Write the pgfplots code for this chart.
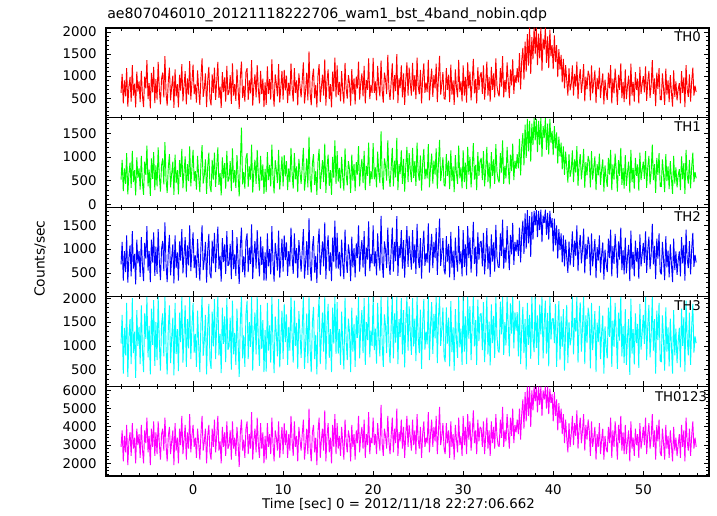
\documentclass[border=0pt]{standalone}
\usepackage{fontspec}
\setmainfont{DejaVu Sans}
\usepackage{pgfplots}
\usepackage{pgfplotstable}
\pgfplotsset{compat=1.18}
\definecolor{cRed}{rgb}{1,0,0}
\definecolor{cGreen}{rgb}{0,1,0}
\definecolor{cBlue}{rgb}{0,0,1}
\definecolor{cCyan}{rgb}{0,1,1}
\definecolor{cMag}{rgb}{1,0,1}

\pgfplotstableread[row sep=\\]{y\\
620\\1050\\380\\900\\540\\1180\\310\\760\\980\\420\\1250\\560\\830\\290\\1100\\650\\
880\\410\\1120\\560\\300\\990\\720\\1360\\480\\840\\270\\1070\\630\\1210\\390\\930\\
470\\1320\\700\\360\\940\\1080\\520\\1450\\610\\330\\880\\1190\\450\\760\\1010\\280\\
1150\\540\\820\\290\\1030\\670\\1270\\430\\790\\1110\\360\\950\\580\\1340\\470\\860\\
1260\\590\\810\\400\\1130\\680\\350\\970\\1400\\530\\720\\1060\\300\\890\\1210\\480\\
340\\1040\\620\\1190\\460\\880\\1320\\510\\760\\280\\1090\\640\\970\\420\\1230\\570\\
640\\1020\\370\\1290\\560\\820\\440\\1150\\700\\260\\990\\1330\\510\\780\\420\\1090\\
1180\\460\\900\\610\\1360\\330\\780\\1040\\520\\1250\\690\\380\\1120\\590\\940\\300\\
860\\350\\1220\\600\\930\\470\\1380\\690\\310\\1040\\820\\540\\1270\\400\\750\\1120\\
470\\1140\\680\\1010\\390\\850\\560\\1290\\730\\420\\1180\\620\\900\\340\\1060\\770\\
520\\900\\1310\\380\\670\\1080\\450\\1560\\610\\340\\960\\1170\\500\\800\\290\\1030\\
1270\\410\\740\\1030\\560\\1380\\330\\890\\1150\\480\\820\\290\\1100\\650\\1420\\520\\
1240\\570\\870\\430\\1110\\650\\380\\1300\\720\\490\\1020\\840\\330\\1160\\590\\950\\
360\\990\\720\\1330\\470\\850\\1060\\540\\1230\\380\\910\\690\\1400\\480\\800\\620\\
1410\\620\\880\\450\\1230\\760\\540\\1350\\680\\400\\1080\\920\\590\\1480\\710\\460\\
860\\1290\\470\\1020\\660\\1500\\390\\950\\730\\1240\\520\\1060\\350\\910\\1310\\560\\
1190\\830\\560\\1300\\650\\1020\\480\\1420\\770\\590\\1140\\380\\960\\1290\\620\\850\\
640\\1370\\450\\880\\1170\\530\\1020\\720\\1280\\410\\960\\1460\\580\\820\\1090\\500\\
470\\1180\\690\\1030\\410\\1260\\580\\900\\350\\1150\\740\\520\\1370\\640\\880\\430\\
1240\\560\\980\\400\\1310\\720\\1100\\450\\860\\1390\\610\\930\\380\\1200\\690\\1010\\
1090\\600\\1240\\470\\820\\1330\\560\\980\\420\\1210\\690\\1060\\520\\1400\\780\\610\\
540\\1180\\760\\1450\\520\\910\\640\\1310\\880\\500\\1150\\790\\1380\\600\\1020\\840\\
1180\\860\\1520\\700\\1350\\1640\\920\\1780\\1100\\1950\\1240\\2100\\1050\\1880\\1380\\2100\\
1500\\2100\\1250\\1960\\1400\\2100\\1120\\1850\\1600\\2100\\1300\\1900\\1180\\2050\\1450\\1700\\
1160\\1920\\1320\\1700\\980\\1610\\1150\\1480\\860\\1390\\720\\1250\\900\\560\\1180\\680\\
820\\1240\\560\\1050\\760\\1330\\480\\930\\1160\\620\\880\\1270\\430\\990\\700\\1120\\
1020\\450\\1240\\610\\870\\1130\\390\\960\\700\\1190\\500\\830\\1060\\360\\920\\640\\
460\\1080\\720\\1250\\380\\940\\610\\1170\\820\\350\\1030\\690\\1290\\500\\870\\410\\
1150\\480\\780\\1010\\330\\1280\\560\\870\\420\\1090\\690\\940\\380\\1210\\600\\820\\
1000\\630\\1220\\440\\890\\1120\\510\\780\\1360\\600\\950\\320\\1080\\710\\1180\\470\\
460\\1060\\720\\350\\1170\\580\\900\\410\\1020\\640\\310\\1130\\530\\880\\450\\700\\
840\\380\\1110\\620\\970\\300\\1250\\700\\530\\1040\\420\\880\\1190\\560\\780\\640\\
}\thzero

\pgfplotstableread[row sep=\\]{y\\
520\\940\\280\\760\\430\\1080\\210\\640\\880\\350\\1130\\470\\720\\190\\990\\560\\
760\\310\\1020\\460\\200\\900\\620\\1240\\380\\730\\180\\970\\540\\1100\\300\\820\\
380\\1200\\610\\270\\830\\970\\420\\1310\\520\\240\\780\\1060\\360\\650\\900\\200\\
1050\\450\\720\\210\\930\\580\\1170\\340\\690\\1010\\270\\850\\490\\1220\\380\\760\\
1150\\490\\700\\310\\1020\\580\\260\\860\\1250\\440\\620\\950\\220\\790\\1090\\390\\
260\\940\\520\\1090\\370\\780\\1200\\410\\660\\190\\990\\550\\870\\330\\1130\\480\\
540\\910\\280\\1180\\460\\720\\350\\1040\\600\\170\\880\\1620\\420\\680\\330\\980\\
1080\\370\\800\\520\\1260\\250\\690\\940\\430\\1150\\600\\290\\1020\\500\\840\\220\\
750\\260\\1100\\510\\830\\380\\1260\\590\\230\\930\\720\\450\\1150\\310\\650\\1010\\
380\\1040\\590\\910\\300\\760\\470\\1190\\640\\330\\1080\\530\\800\\260\\960\\680\\
430\\800\\1190\\290\\570\\970\\360\\1430\\520\\250\\860\\1060\\410\\700\\200\\920\\
1170\\320\\650\\930\\470\\1280\\240\\790\\1050\\390\\720\\200\\1000\\560\\1350\\430\\
1120\\480\\770\\340\\1000\\560\\290\\1180\\630\\400\\910\\740\\240\\1050\\500\\850\\
280\\890\\630\\1230\\380\\750\\960\\450\\1130\\300\\810\\600\\1300\\390\\700\\530\\
1290\\530\\780\\360\\1110\\660\\450\\1540\\590\\310\\970\\820\\500\\1350\\620\\370\\
770\\1190\\380\\920\\570\\1400\\300\\850\\640\\1140\\430\\960\\270\\810\\1210\\470\\
1080\\730\\470\\1190\\560\\910\\390\\1300\\670\\500\\1030\\290\\860\\1170\\530\\750\\
550\\1270\\360\\780\\1070\\440\\920\\630\\1180\\330\\860\\1360\\490\\720\\990\\410\\
380\\1060\\600\\920\\320\\1140\\490\\800\\260\\1040\\650\\430\\1240\\550\\780\\340\\
1140\\470\\880\\320\\1210\\630\\1000\\360\\760\\1290\\520\\830\\300\\1100\\600\\910\\
980\\510\\1120\\380\\720\\1210\\470\\880\\330\\1100\\600\\950\\430\\1270\\690\\520\\
460\\1080\\670\\1350\\430\\810\\550\\1210\\780\\420\\1050\\700\\1280\\510\\920\\750\\
1060\\760\\1380\\610\\1210\\1500\\820\\1680\\980\\1800\\1120\\1760\\900\\1700\\1250\\1820\\
1350\\1800\\1100\\1760\\1250\\1820\\1000\\1650\\1400\\1820\\1150\\1700\\1050\\1800\\1300\\1550\\
1040\\1650\\1180\\1520\\860\\1430\\1010\\1300\\740\\1220\\620\\1110\\790\\460\\1060\\580\\
720\\1140\\470\\950\\670\\1230\\390\\830\\1060\\530\\780\\1170\\350\\890\\610\\1020\\
910\\360\\1120\\520\\770\\1010\\300\\850\\610\\1070\\410\\730\\950\\270\\820\\550\\
370\\980\\630\\1150\\300\\840\\520\\1070\\720\\270\\930\\600\\1190\\410\\770\\330\\
1040\\390\\680\\900\\250\\1150\\470\\770\\330\\980\\600\\840\\290\\1090\\510\\720\\
900\\540\\1120\\350\\790\\1020\\420\\680\\1260\\510\\850\\240\\980\\620\\1080\\380\\
370\\950\\630\\260\\1060\\490\\800\\320\\910\\550\\220\\1020\\440\\780\\360\\610\\
740\\300\\1010\\530\\870\\220\\1150\\610\\440\\940\\340\\780\\1090\\470\\680\\550\\
}\thone

\pgfplotstableread[row sep=\\]{y\\
680\\1150\\340\\960\\520\\1290\\300\\820\\1080\\430\\1380\\590\\900\\260\\1200\\700\\
960\\420\\1250\\640\\330\\1130\\800\\1480\\550\\960\\310\\1200\\720\\1350\\440\\1050\\
480\\1420\\760\\350\\1010\\1170\\540\\1560\\660\\310\\950\\1300\\450\\820\\1100\\280\\
1290\\610\\930\\340\\1160\\760\\1420\\490\\900\\1250\\410\\1080\\660\\1500\\540\\980\\
1350\\600\\870\\400\\1210\\720\\340\\1040\\1500\\560\\780\\1150\\300\\960\\1320\\490\\
390\\1180\\700\\1340\\520\\1000\\1470\\580\\860\\320\\1230\\730\\1100\\480\\1380\\650\\
690\\1110\\370\\1400\\580\\890\\440\\1250\\750\\270\\1070\\1450\\520\\850\\410\\1180\\
1330\\520\\1030\\690\\1520\\370\\880\\1170\\590\\1400\\780\\430\\1260\\670\\1060\\340\\
930\\340\\1330\\640\\1000\\470\\1480\\740\\320\\1130\\880\\550\\1390\\400\\800\\1220\\
530\\1290\\770\\1140\\440\\960\\640\\1450\\830\\480\\1330\\700\\1020\\390\\1190\\870\\
530\\970\\1420\\380\\720\\1170\\460\\1650\\650\\330\\1040\\1270\\510\\860\\290\\1110\\
1430\\460\\840\\1160\\640\\1560\\370\\1000\\1290\\540\\930\\330\\1240\\730\\1600\\590\\
1340\\590\\940\\430\\1200\\700\\370\\1410\\780\\500\\1100\\900\\330\\1260\\620\\1020\\
410\\1120\\810\\1500\\530\\960\\1190\\610\\1380\\430\\1030\\780\\1580\\540\\900\\700\\
1500\\640\\950\\450\\1330\\810\\550\\1700\\730\\400\\1160\\990\\600\\1450\\760\\460\\
970\\1450\\530\\1150\\750\\1690\\440\\1070\\820\\1400\\590\\1190\\400\\1030\\1480\\630\\
1280\\890\\570\\1400\\700\\1100\\480\\1530\\820\\600\\1230\\380\\1030\\1390\\650\\910\\
720\\1540\\510\\990\\1320\\600\\1150\\810\\1440\\460\\1080\\1640\\650\\920\\1230\\560\\
470\\1270\\740\\1110\\410\\1360\\610\\970\\350\\1240\\790\\530\\1480\\680\\950\\430\\
1400\\630\\1100\\450\\1480\\810\\1240\\510\\970\\1570\\690\\1050\\430\\1350\\780\\1140\\
1170\\640\\1340\\470\\880\\1440\\580\\1060\\420\\1310\\740\\1140\\530\\1510\\840\\630\\
610\\1330\\860\\1620\\590\\1030\\720\\1480\\990\\560\\1300\\890\\1550\\670\\1150\\950\\
1200\\860\\1450\\720\\1300\\1600\\900\\1750\\1010\\1820\\1120\\1690\\840\\1780\\1200\\1800\\
1500\\1820\\1250\\1800\\1400\\1830\\1150\\1700\\1550\\1830\\1300\\1760\\1200\\1800\\1450\\1650\\
950\\1640\\1080\\1500\\800\\1420\\980\\1330\\720\\1290\\640\\1200\\820\\500\\1160\\660\\
930\\1370\\630\\1180\\860\\1500\\540\\1050\\1300\\700\\990\\1430\\490\\1110\\790\\1260\\
1100\\450\\1330\\640\\930\\1210\\390\\1040\\760\\1290\\510\\890\\1140\\360\\990\\690\\
520\\1220\\810\\1410\\430\\1060\\690\\1320\\930\\400\\1160\\780\\1450\\560\\980\\470\\
1240\\490\\840\\1090\\330\\1390\\590\\940\\430\\1180\\740\\1020\\380\\1310\\640\\880\\
1130\\710\\1370\\500\\1000\\1260\\580\\880\\1530\\680\\1070\\370\\1220\\800\\1330\\530\\
470\\1150\\780\\350\\1270\\620\\970\\410\\1100\\690\\310\\1220\\560\\950\\460\\760\\
950\\430\\1250\\700\\1090\\340\\1410\\790\\600\\1170\\470\\990\\1340\\630\\880\\720\\
}\thtwo

\pgfplotstableread[row sep=\\]{y\\
1050\\1650\\420\\1380\\800\\1900\\350\\1180\\1560\\620\\2000\\850\\1300\\330\\1750\\1000\\
1400\\620\\1850\\900\\450\\1680\\1150\\2030\\760\\1420\\400\\1780\\1020\\1960\\580\\1500\\
700\\2030\\1100\\480\\1450\\1680\\780\\2030\\950\\400\\1360\\1850\\640\\1170\\1590\\380\\
1900\\830\\1350\\470\\1700\\1080\\2030\\650\\1280\\1850\\560\\1560\\950\\2030\\720\\1400\\
1900\\860\\1250\\560\\1740\\1030\\450\\1480\\2030\\790\\1120\\1650\\400\\1370\\1880\\700\\
520\\1720\\990\\1980\\720\\1450\\2030\\800\\1250\\430\\1800\\1040\\1620\\660\\2000\\920\\
990\\1590\\500\\1950\\820\\1270\\600\\1780\\1080\\350\\1530\\2030\\740\\1220\\560\\1680\\
1950\\720\\1500\\980\\2030\\480\\1280\\1700\\820\\2030\\1100\\580\\1860\\940\\1540\\450\\
1330\\460\\1900\\900\\1430\\650\\2030\\1060\\430\\1620\\1250\\780\\1980\\550\\1140\\1740\\
720\\1880\\1080\\1660\\600\\1400\\900\\2030\\1200\\650\\1950\\1000\\1480\\520\\1730\\1250\\
750\\1390\\2030\\520\\1030\\1680\\640\\2030\\930\\450\\1490\\1820\\720\\1230\\400\\1590\\
2030\\620\\1220\\1700\\880\\2030\\500\\1450\\1880\\750\\1350\\450\\1800\\1050\\2030\\830\\
1920\\840\\1350\\600\\1720\\1000\\510\\2010\\1110\\700\\1570\\1290\\450\\1800\\880\\1460\\
560\\1640\\1170\\2030\\740\\1400\\1750\\850\\2000\\600\\1500\\1120\\2030\\760\\1320\\1000\\
2030\\910\\1360\\630\\1900\\1160\\780\\2030\\1040\\560\\1660\\1420\\850\\2030\\1090\\640\\
1400\\2030\\740\\1680\\1070\\2030\\620\\1560\\1190\\2000\\820\\1750\\550\\1500\\2030\\900\\
1830\\1270\\810\\2000\\990\\1570\\680\\2030\\1170\\850\\1760\\520\\1470\\1980\\920\\1300\\
1030\\2030\\700\\1440\\1920\\830\\1670\\1160\\2030\\640\\1580\\2030\\1000\\1350\\1800\\780\\
660\\1810\\1050\\1590\\570\\1940\\870\\1390\\480\\1770\\1130\\750\\2030\\970\\1360\\600\\
2030\\880\\1620\\620\\2030\\1150\\1830\\700\\1420\\2030\\990\\1540\\600\\1970\\1100\\1660\\
1680\\910\\1920\\660\\1260\\2030\\820\\1510\\590\\1870\\1060\\1630\\750\\2030\\1200\\900\\
860\\1930\\1240\\2030\\810\\1500\\1010\\2030\\1430\\780\\1890\\1260\\2030\\950\\1700\\1320\\
1710\\780\\1950\\620\\1330\\1820\\850\\1560\\500\\1900\\1020\\1650\\730\\2030\\1150\\870\\
2030\\960\\1640\\600\\1870\\1240\\2030\\740\\1480\\1950\\840\\1690\\570\\2030\\1130\\1560\\
1580\\1060\\1880\\560\\1400\\1940\\700\\1620\\980\\1770\\480\\1350\\1860\\640\\1500\\1010\\
1170\\2030\\820\\1580\\1300\\2030\\650\\1460\\1910\\880\\1380\\2030\\620\\1640\\1060\\1800\\
1620\\530\\1900\\910\\1320\\1730\\450\\1490\\1080\\1840\\720\\1270\\1640\\420\\1410\\980\\
740\\1800\\1190\\2030\\560\\1530\\980\\1900\\1250\\520\\1700\\1110\\2030\\780\\1420\\640\\
1770\\600\\1200\\1560\\390\\1990\\840\\1350\\610\\1680\\1060\\1460\\540\\1880\\920\\1260\\
1650\\1040\\2030\\700\\1420\\1860\\760\\1230\\2030\\900\\1560\\420\\1740\\1120\\1900\\690\\
660\\1640\\1120\\480\\1810\\880\\1390\\570\\1570\\990\\420\\1750\\800\\1360\\640\\1090\\
1380\\550\\1780\\1000\\1600\\460\\1950\\1150\\800\\1700\\600\\1390\\1880\\860\\1200\\1060\\
}\ththree

\pgfplotstableread[row sep=\\]{y\\
2900\\3800\\2100\\3500\\2600\\4100\\1900\\3200\\3700\\2400\\4200\\2800\\3400\\2000\\3900\\3000\\
3600\\2300\\4100\\2800\\2000\\3800\\3100\\4500\\2600\\3500\\1900\\3900\\2900\\4300\\2400\\3700\\
2500\\4300\\3100\\2200\\3600\\3900\\2700\\4500\\3000\\2100\\3500\\4000\\2500\\3200\\3800\\1900\\
4200\\2700\\3400\\2000\\3900\\3000\\4600\\2500\\3300\\4100\\2200\\3700\\2800\\4700\\2600\\3500\\
4100\\2900\\3400\\2300\\3900\\3100\\2200\\3600\\4600\\2700\\3200\\3900\\2000\\3500\\4100\\2600\\
2200\\3900\\2900\\4400\\2600\\3500\\4600\\2700\\3200\\2000\\4000\\2900\\3700\\2400\\4300\\2800\\
3000\\3800\\2200\\4300\\2800\\3400\\2400\\4000\\3100\\1800\\3700\\4400\\2700\\3300\\2300\\3900\\
4300\\2500\\3600\\2800\\4800\\2200\\3300\\3900\\2600\\4500\\3000\\2300\\4200\\2800\\3700\\2000\\
3500\\2200\\4200\\2900\\3600\\2500\\4500\\3100\\2100\\3800\\3400\\2700\\4300\\2300\\3200\\4000\\
2500\\4200\\3000\\3800\\2300\\3600\\2700\\4600\\3200\\2400\\4300\\2900\\3500\\2100\\4000\\3300\\
2700\\3600\\4400\\2200\\3000\\3900\\2500\\5000\\2900\\2100\\3700\\4100\\2600\\3400\\1900\\3800\\
4500\\2300\\3300\\3900\\2700\\4900\\2100\\3500\\4200\\2600\\3400\\2000\\4100\\2900\\4700\\2500\\
4200\\2800\\3500\\2400\\4000\\3100\\2200\\4400\\3200\\2600\\3800\\3400\\2100\\4100\\2900\\3600\\
2200\\3800\\3100\\4600\\2600\\3500\\4000\\2800\\4400\\2300\\3600\\3000\\4800\\2500\\3400\\3100\\
4500\\3000\\3600\\2500\\4200\\3300\\2700\\5200\\3100\\2400\\3900\\3500\\2800\\4600\\3200\\2500\\
3500\\4500\\2600\\3900\\3100\\5000\\2400\\3700\\3200\\4400\\2800\\4000\\2300\\3600\\4600\\2900\\
4100\\3400\\2700\\4400\\3000\\3800\\2500\\4700\\3300\\2800\\4000\\2300\\3600\\4300\\2900\\3400\\
3100\\4800\\2600\\3600\\4400\\2900\\4000\\3200\\4600\\2500\\3700\\5100\\3000\\3500\\4200\\2800\\
2500\\4200\\3100\\3800\\2300\\4300\\2900\\3600\\2200\\4100\\3300\\2600\\4500\\3000\\3500\\2400\\
4600\\3000\\4000\\2500\\4700\\3300\\4300\\2700\\3600\\4900\\3100\\3800\\2500\\4400\\3200\\4000\\
3900\\2900\\4300\\2500\\3500\\4500\\2800\\3800\\2400\\4300\\3100\\4000\\2800\\4700\\3500\\3000\\
2900\\4400\\3400\\5100\\2900\\3800\\3200\\4700\\3700\\2800\\4500\\3500\\5000\\3100\\4100\\3700\\
4400\\3600\\5000\\3300\\4700\\5500\\3900\\5900\\4300\\6200\\4600\\6200\\4000\\6000\\4900\\6200\\
5400\\6200\\4800\\6200\\5200\\6200\\4600\\6000\\5500\\6200\\5000\\6200\\4700\\6100\\5300\\5800\\
4300\\5900\\4600\\5500\\3800\\5300\\4200\\5000\\3600\\4700\\3100\\4400\\3400\\2600\\4200\\2900\\
3600\\4600\\3000\\4200\\3500\\4900\\2800\\3900\\4500\\3100\\3800\\4700\\2700\\4100\\3300\\4400\\
3800\\2400\\4300\\2900\\3400\\4000\\2200\\3600\\2900\\4200\\2500\\3300\\3900\\2200\\3500\\2800\\
2600\\4000\\3100\\4500\\2300\\3800\\2900\\4300\\3400\\2200\\4100\\3100\\4600\\2700\\3700\\2500\\
4100\\2500\\3200\\3800\\2100\\4300\\2800\\3400\\2400\\3900\\3000\\3600\\2300\\4200\\2800\\3300\\
4000\\3000\\4500\\2500\\3600\\4200\\2800\\3400\\4700\\2900\\3800\\2200\\4100\\3200\\4400\\2600\\
2400\\3900\\3100\\2200\\4100\\2800\\3500\\2300\\3800\\3000\\2100\\4000\\2700\\3400\\2400\\3000\\
3600\\2300\\4100\\2900\\3800\\2100\\4500\\3200\\2700\\3900\\2400\\3500\\4300\\2800\\3400\\2900\\
}\thall

\pgfplotsset{
  panel/.style={
    scale only axis, width=452.25pt, height=67.2pt,
    anchor=north west,
    xmin=-9.67, xmax=57.3,
    xtick={0,10,20,30,40,50},
    minor xtick={-8,-6,...,56},
    xticklabels={},
    tick align=inside,
    clip mode=individual,
    major tick length=4pt, minor tick length=2pt,
    every tick/.style={black, line width=0.5pt},
    axis line style={black, line width=0.8pt},
    tick label style={font=\fontsize{10}{12}\selectfont},
    yticklabel style={xshift=-3.5pt},
    /pgf/number format/assume math mode=true,
    /pgf/number format/1000 sep={},
    every axis plot/.append style={line width=0.7pt, mark=none, line join=bevel},
  },
}
\tikzset{thlabel/.style={anchor=base west, inner sep=0pt, font=\fontsize{10}{12}\selectfont}}

\begin{document}
\begin{tikzpicture}
\useasboundingbox (0,0) rectangle (537.75pt,387pt);

\begin{axis}[panel, at={(79.5pt,366pt)}, ymin=60, ymax=2090,
  ytick={500,1000,1500,2000}, minor ytick={100,200,...,2000}]
\addplot[cRed] table[x expr=-8+\coordindex*0.125, y=y] {\thzero};
\node[thlabel] at (axis description cs:0.942,0.845) {TH0};
\end{axis}

\begin{axis}[panel, at={(79.5pt,298.8pt)}, ymin=-60, ymax=1830,
  ytick={0,500,1000,1500}, minor ytick={0,100,...,1800}]
\addplot[cGreen] table[x expr=-8+\coordindex*0.125, y=y] {\thone};
\node[thlabel] at (axis description cs:0.942,0.845) {TH1};
\end{axis}

\begin{axis}[panel, at={(79.5pt,231.6pt)}, ymin=0, ymax=1880,
  ytick={500,1000,1500}, minor ytick={100,200,...,1800}]
\addplot[cBlue] table[x expr=-8+\coordindex*0.125, y=y] {\thtwo};
\node[thlabel] at (axis description cs:0.942,0.845) {TH2};
\end{axis}

\begin{axis}[panel, at={(79.5pt,164.4pt)}, ymin=150, ymax=2030,
  ytick={500,1000,1500,2000}, minor ytick={200,300,...,2000}]
\addplot[cCyan] table[x expr=-8+\coordindex*0.125, y=y] {\ththree};
\node[thlabel] at (axis description cs:0.942,0.845) {TH3};
\end{axis}

\begin{axis}[panel, at={(79.5pt,97.2pt)}, ymin=1300, ymax=6220,
  ytick={2000,3000,4000,5000,6000}, minor ytick={1400,1600,...,6200},
  xticklabels={0,10,20,30,40,50},
  xticklabel style={yshift=-3pt}]
\addplot[cMag] table[x expr=-8+\coordindex*0.125, y=y] {\thall};
\node[thlabel] at (axis description cs:0.91,0.83) {TH0123};
\end{axis}

\node[anchor=base west, inner sep=0pt, font=\fontsize{10.6}{12}\selectfont] at (80.25pt,372.75pt)
  {ae807046010\_20121118222706\_wam1\_bst\_4band\_nobin.qdp};
\node[rotate=90, inner sep=0pt, font=\fontsize{10.4}{12}\selectfont] at (30pt,193pt) {Counts/sec};
\node[anchor=base, inner sep=0pt, font=\fontsize{10}{12}\selectfont] at (298.9pt,5.25pt)
  {Time [sec] 0 = 2012/11/18 22:27:06.662};
\end{tikzpicture}
\end{document}
